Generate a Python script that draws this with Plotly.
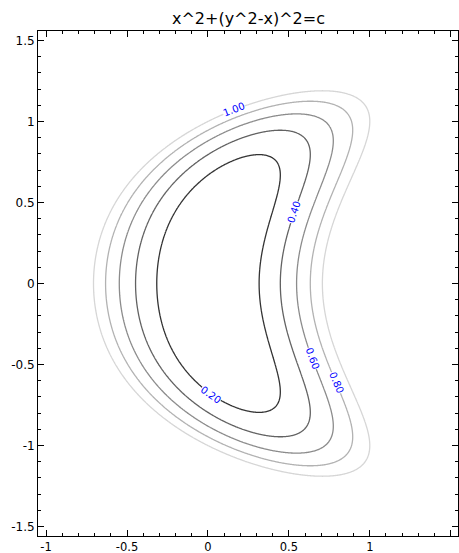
import numpy as np
import plotly.graph_objects as go

# Data
levels = [0.2, 0.4, 0.6, 0.8, 1.0]
level_labels = ["0.20", "0.40", "0.60", "0.80", "1.00"]
level_colors = ["#333333", "#626262", "#8c8c8c", "#b2b2b2", "#d6d6d6"]
x_ticks = [-1, -0.5, 0, 0.5, 1, 1.5]
x_tick_text = ["-1", "-0.5", "0", "0.5", "1", "1.5"]
y_ticks = [-1.5, -1, -0.5, 0, 0.5, 1, 1.5]
y_tick_text = ["-1.5", "-1", "-0.5", "0", "0.5", "1", "1.5"]

# label anchor positions (layout)
label_pos = {
    "0.20": (0.016, -0.683),
    "0.40": (0.534, 0.442),
    "0.60": (0.645, -0.465),
    "0.80": (0.793, -0.613),
    "1.00": (0.158, 1.071),
}

def f(x, y):
    return x**2 + (y**2 - x)**2

xs = np.linspace(-1.05, 1.55, 521)
ys = np.linspace(-1.56, 1.56, 625)
X, Y = np.meshgrid(xs, ys)
Z = f(X, Y)

fig = go.Figure()
for lev, col in zip(levels, level_colors):
    fig.add_trace(go.Contour(
        x=xs, y=ys, z=Z,
        autocontour=False,
        contours=dict(start=lev, end=lev, size=0.2, coloring="none", showlabels=False),
        line=dict(color=col, width=1.3),
        showscale=False, hoverinfo="skip",
    ))

for lab in level_labels:
    px, py = label_pos[lab]
    fx = 2 * px - 2 * (py**2 - px)
    fy = 4 * py * (py**2 - px)
    tx, ty = fy, -fx
    ang = np.degrees(np.arctan2(ty, tx))
    if ang > 90:
        ang -= 180
    if ang < -90:
        ang += 180
    fig.add_annotation(
        x=px, y=py, text=lab, showarrow=False, textangle=-ang,
        font=dict(family="DejaVu Sans", size=10, color="#0000ff"),
        bgcolor="white", borderpad=0,
    )

axis_common = dict(
    showgrid=False, zeroline=False, showline=True, linecolor="black", linewidth=1,
    mirror="allticks", ticks="inside", ticklen=6, tickwidth=1, tickcolor="black",
    minor=dict(ticks="inside", ticklen=3, dtick=0.1, tickcolor="black", showgrid=False),
    automargin=False,
)
fig.update_xaxes(range=[-1.05, 1.545], tickvals=x_ticks, ticktext=x_tick_text,
                 tickfont=dict(family="DejaVu Sans", size=11.5, color="black"),
                 **axis_common)
fig.update_yaxes(range=[-1.558, 1.558], tickvals=y_ticks, ticktext=y_tick_text,
                 tickfont=dict(family="DejaVu Sans", size=12, color="black"),
                 **axis_common)
fig.update_xaxes(minor=dict(tick0=-1))
fig.update_yaxes(minor=dict(tick0=-1.5))

fig.update_layout(
    width=459, height=553,
    margin=dict(l=38, r=1, t=31, b=17),
    paper_bgcolor="white", plot_bgcolor="white",
    showlegend=False,
    title=dict(text="x^2+(y^2-x)^2=c", x=0.5413, xanchor="center",
               y=1 - 18 / 553, yanchor="middle", yref="container",
               font=dict(family="DejaVu Sans", size=16, color="black")),
)

fig.write_html("out.html", config={"displayModeBar": False},
               post_script="document.body.style.margin='0';document.body.style.overflow='hidden';")
